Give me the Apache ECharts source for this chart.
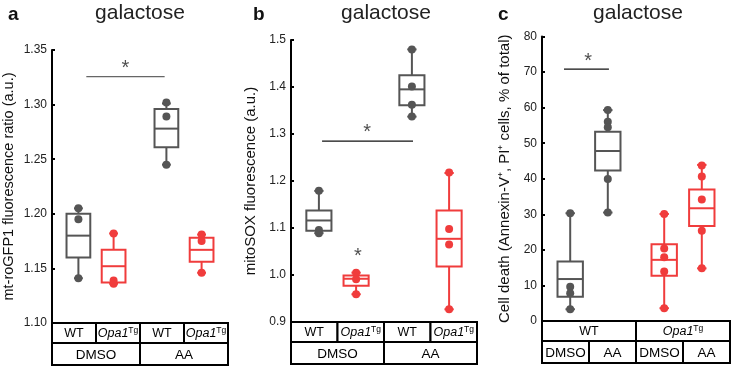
<!DOCTYPE html>
<html><head><meta charset="utf-8">
<script src="https://cdn.jsdelivr.net/npm/echarts@6/dist/echarts.min.js"></script>
<style>html,body{margin:0;padding:0;background:#fff}#c{width:733px;height:369px}</style>
</head><body><div id="c"></div>
<script>
// ---------- data ----------
const groupSlots = [1.5, 3.5, 6.5, 8.5];           // x slot of each group (axis 0..10)
const groupColorKeysAB = ['gray', 'red', 'gray', 'red'];
const groupColorKeysC = ['gray', 'gray', 'red', 'red'];
// panel a : mt-roGFP1 ratio  [min, q1, median, q3, max]
const aBoxes = [[1.141,1.160,1.180,1.200,1.205],[1.136,1.137,1.152,1.167,1.182],[1.245,1.261,1.278,1.296,1.301],[1.146,1.156,1.167,1.178,1.181]];
const aPoints = [[1.205,1.195,1.141],[1.182,1.139,1.136],[1.302,1.289,1.245],[1.181,1.175,1.146]];
const aTicks = [1.10, 1.35, 0.05];
// panel b : mitoSOX
const bBoxes = [[1.089,1.094,1.116,1.137,1.179],[0.959,0.977,0.992,0.999,1.005],[1.337,1.361,1.395,1.425,1.480],[0.927,1.018,1.077,1.137,1.217]];
const bPoints = [[1.179,1.096,1.089],[1.005,0.991,0.959],[1.480,1.401,1.362,1.337],[1.218,1.098,1.065,0.927]];
const bTicks = [0.9, 1.5, 0.1];
// panel c : cell death %
const cBoxes = [[3.3,6.8,11.8,16.7,30.3],[30.5,42.3,47.8,53.2,59.3],[3.6,12.7,17.2,21.6,30.1],[14.8,26.7,31.7,37.0,43.9]];
const cPoints = [[30.3,9.6,7.8,3.3],[59.3,56.0,54.5,39.9,30.5],[30.1,20.4,17.9,13.9,3.6],[43.7,40.6,34.2,25.4,14.8]];
const cTicks = [0, 80, 10];
// significance bars [x1, x2, y] and stars [x, y]
const sigLines = [[1.95, 6.4, 1.3256], [1.67, 6.56, 1.285], [1.17, 3.56, 70.8]];
const sigStars = [[[4.17, 1.333]], [[4.09, 1.303], [3.6, 1.040]], [[2.45, 73]]];
const titles = ['galactose', 'galactose', 'galactose'];
const letters = ['a', 'b', 'c'];
const yNames = ['mt-roGFP1 fluorescence ratio (a.u.)', 'mitoSOX fluorescence (a.u.)', 'Cell death (Annexin-V\u207A, PI\u207A cells, % of total)'];
// tables: rows of [label, fromSlot, toSlot, italicWithTg]
const tableAB = [[['WT',0,2.5],['Opa1',2.5,5,true],['WT',5,7.5],['Opa1',7.5,10,true]],[['DMSO',0,5],['AA',5,10]]];
const tableC = [[['WT',0,5],['Opa1',5,10,true]],[['DMSO',0,2.5],['AA',2.5,5],['DMSO',5,7.5],['AA',7.5,10]]];

// ---------- style / layout ----------
const COLORS = {gray:'#555555', red:'#f03c3c'};
const FONT = 'Liberation Sans, Arial, sans-serif';
const grids = [
  {left:48, top:50, width:180, height:273},
  {left:291, top:40, width:186, height:282},
  {left:542, top:36.5, width:188, height:284.5}
];
const nameGaps = [36, 33, 30];
const nameSizes = [14.5, 15, 15];
const decimals = [2, 1, 0];
const rowH = [20, 22];

const chart = echarts.init(document.getElementById('c'));
const panels = [
  {boxes:aBoxes, pts:aPoints, ticks:aTicks, table:tableAB, colors:groupColorKeysAB},
  {boxes:bBoxes, pts:bPoints, ticks:bTicks, table:tableAB, colors:groupColorKeysAB},
  {boxes:cBoxes, pts:cPoints, ticks:cTicks, table:tableC, colors:groupColorKeysC}
];

function makeBoxRender(colorKeys){
  return function(params, api){
    const x = api.value(0);
    const c = COLORS[colorKeys[params.dataIndex]];
    const p = [1,2,3,4,5].map(i => api.coord([x, api.value(i)]));
    const cx = p[0][0];
    const bw = api.size([1.35, 0])[0], cw = api.size([0.5, 0])[0];
    const st = {stroke:c, lineWidth:2, fill:null};
    return {type:'group', children:[
      {type:'line', shape:{x1:cx,y1:p[4][1],x2:cx,y2:p[3][1]}, style:st},
      {type:'line', shape:{x1:cx,y1:p[1][1],x2:cx,y2:p[0][1]}, style:st},
      {type:'line', shape:{x1:cx-cw/2,y1:p[4][1],x2:cx+cw/2,y2:p[4][1]}, style:st},
      {type:'line', shape:{x1:cx-cw/2,y1:p[0][1],x2:cx+cw/2,y2:p[0][1]}, style:st},
      {type:'rect', shape:{x:cx-bw/2,y:p[3][1],width:bw,height:p[1][1]-p[3][1]}, style:{stroke:c,lineWidth:2,fill:'#fff'}},
      {type:'line', shape:{x1:cx-bw/2,y1:p[2][1],x2:cx+bw/2,y2:p[2][1]}, style:st}
    ]};
  };
}

const option = {
  animation:false,
  backgroundColor:'#fff',
  grid: grids.map(g => Object.assign({containLabel:false}, g)),
  title: [],
  xAxis: grids.map((g,i) => ({gridIndex:i, type:'value', min:0, max:10, show:false})),
  yAxis: panels.map((p,i) => ({
    gridIndex:i, type:'value', min:p.ticks[0], max:p.ticks[1], interval:p.ticks[2],
    name:yNames[i], nameLocation:'middle', nameGap:nameGaps[i],
    nameTextStyle:{fontFamily:FONT, fontSize:nameSizes[i], color:'#111'},
    axisLine:{show:true, lineStyle:{color:'#000', width:2}},
    axisTick:{show:true, inside:true, length:3, lineStyle:{color:'#000', width:2}},
    axisLabel:{fontFamily:FONT, fontSize:12, color:'#222', margin:5,
      formatter: v => v.toFixed(decimals[i])},
    splitLine:{show:false}
  })),
  series: []
};

panels.forEach((p, i) => {
  option.series.push({
    type:'custom', xAxisIndex:i, yAxisIndex:i, renderItem:makeBoxRender(p.colors), z:2,
    encode:{x:0, y:[1,2,3,4,5]},
    data: p.boxes.map((b, k) => [groupSlots[k]].concat(b))
  });
  p.pts.forEach((arr, k) => {
    option.series.push({
      type:'scatter', xAxisIndex:i, yAxisIndex:i, symbolSize:8, z:3,
      itemStyle:{color:COLORS[p.colors[k]], opacity:1},
      data: arr.map(v => [groupSlots[k], v])
    });
  });
  const s = sigLines[i];
  option.series.push({
    type:'line', xAxisIndex:i, yAxisIndex:i, symbol:'none', z:2,
    lineStyle:{color: i===0 ? '#666' : '#111', width:1.3},
    data:[[s[0], s[2]], [s[1], s[2]]]
  });
  option.series.push({
    type:'scatter', xAxisIndex:i, yAxisIndex:i, symbolSize:0, z:4,
    label:{show:true, formatter:'*', position:'inside', fontFamily:FONT, fontSize:20, color:'#222'},
    data: sigStars[i]
  });
  option.title.push({
    text:titles[i], left:grids[i].left + grids[i].width/2 - 3, top:-2, textAlign:'center',
    textStyle:{fontFamily:FONT, fontSize:21, fontWeight:'normal', color:'#222'}
  });
  option.title.push({
    text:letters[i], left:[3,248,493][i], top:0,
    textStyle:{fontFamily:FONT, fontSize:19, fontWeight:'bold', color:'#111'}
  });
});

chart.setOption(option);

// ---------- tables beneath the axes ----------
const graphics = [];
panels.forEach((p, i) => {
  const y0 = chart.convertToPixel({gridIndex:i}, [0, p.ticks[0]])[1];
  let top = y0;
  p.table.forEach((row, r) => {
    row.forEach(cell => {
      const x1 = chart.convertToPixel({gridIndex:i}, [cell[1], p.ticks[0]])[0];
      const x2 = chart.convertToPixel({gridIndex:i}, [cell[2], p.ticks[0]])[0];
      graphics.push({type:'rect', shape:{x:x1, y:top, width:x2-x1, height:rowH[r]},
        style:{fill:'#fff', stroke:'#000', lineWidth:2}, z:10});
      const isOpa = cell[3];
      graphics.push({type:'text', x:(x1+x2)/2, y:top + rowH[r]/2 + 1, z:11,
        style:{
          text: isOpa ? '{i|Opa1}{s|Tg}' : cell[0],
          align:'center', verticalAlign:'middle',
          fontFamily:FONT, fontSize: r===0 ? 12.5 : 13.5, fill:'#000',
          rich: isOpa ? {
            i:{fontFamily:FONT, fontSize:12.5, fontStyle:'italic', fill:'#000'},
            s:{fontFamily:FONT, fontSize:8.5, fill:'#000', verticalAlign:'top', padding:[0,0,6,0]}
          } : undefined
        }});
    });
    top += rowH[r];
  });
});
chart.setOption({graphic: graphics});
</script>
</body></html>
